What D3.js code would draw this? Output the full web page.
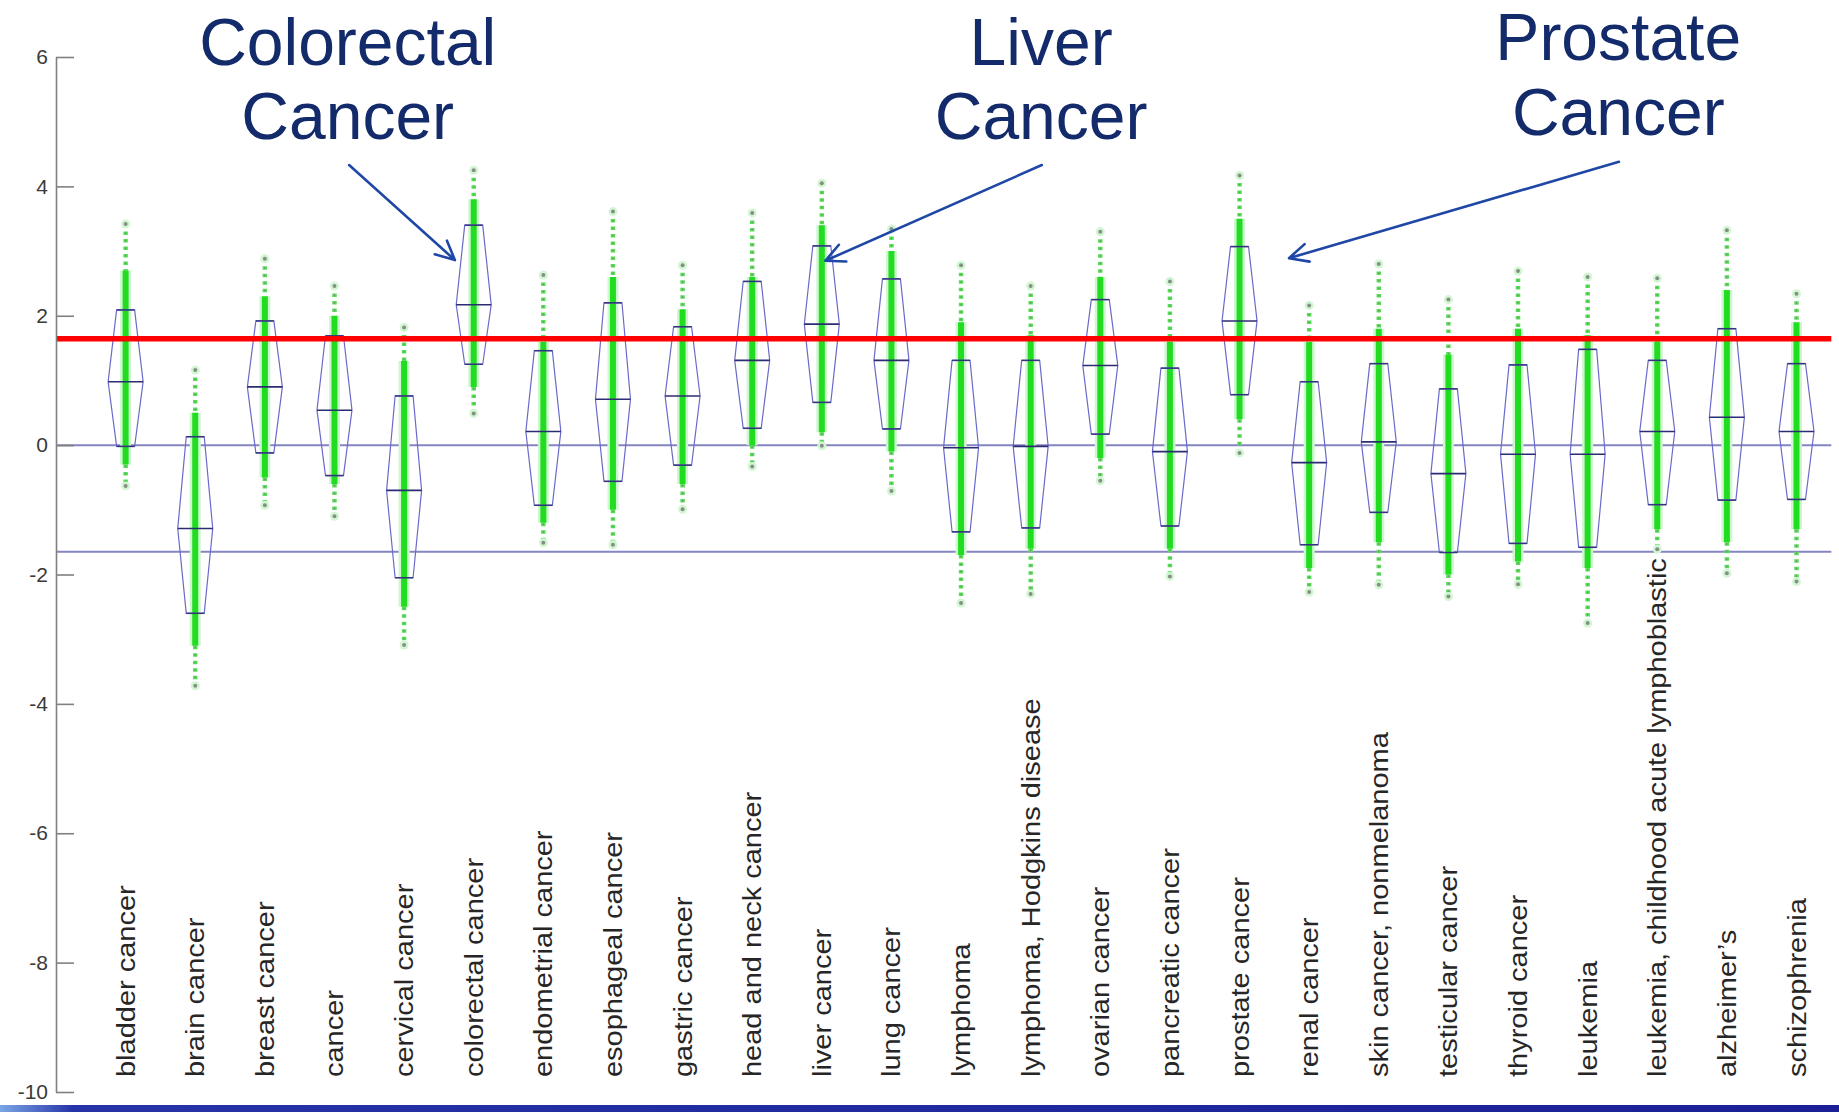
<!DOCTYPE html>
<html>
<head>
<meta charset="utf-8">
<script src="https://cdn.jsdelivr.net/npm/d3@7"></script>
<style>
  html, body { margin: 0; padding: 0; background: #fff; }
  svg { display: block; font-family: Arial, "Liberation Sans", sans-serif; }
</style>
</head>
<body>
<div id="chart"></div>
<script>
// --- data ---
const categories = [
  'bladder cancer', 'brain cancer', 'breast cancer', 'cancer', 'cervical cancer',
  'colorectal cancer', 'endometrial cancer', 'esophageal cancer', 'gastric cancer',
  'head and neck cancer', 'liver cancer', 'lung cancer', 'lymphoma',
  'lymphoma, Hodgkins disease', 'ovarian cancer', 'pancreatic cancer', 'prostate cancer',
  'renal cancer', 'skin cancer, nonmelanoma', 'testicular cancer', 'thyroid cancer',
  'leukemia', 'leukemia, childhood acute lymphoblastic', 'alzheimer\u2019s', 'schizophrenia'
];
const maxVal  = [3.42, 1.16, 2.88, 2.46, 1.82, 4.25, 2.63, 3.61, 2.78, 3.59, 4.05, 3.34, 2.78, 2.46, 3.30, 2.53, 4.17, 2.16, 2.80, 2.25, 2.69, 2.60, 2.58, 3.32, 2.34];
const denseHi = [2.70, 0.50, 2.30, 2.00, 1.30, 3.80, 1.60, 2.60, 2.10, 2.60, 3.40, 3.00, 1.90, 1.70, 2.60, 1.60, 3.50, 1.60, 1.80, 1.40, 1.80, 1.70, 1.60, 2.40, 1.90];
const q3      = [2.09, 0.13, 1.92, 1.69, 0.76, 3.40, 1.46, 2.20, 1.83, 2.53, 3.08, 2.57, 1.31, 1.31, 2.25, 1.19, 3.07, 0.98, 1.26, 0.87, 1.24, 1.48, 1.31, 1.80, 1.26];
const median  = [0.98, -1.29, 0.90, 0.54, -0.70, 2.17, 0.21, 0.71, 0.76, 1.31, 1.87, 1.31, -0.04, -0.02, 1.23, -0.10, 1.92, -0.27, 0.05, -0.44, -0.14, -0.14, 0.21, 0.43, 0.21];
const q1      = [-0.02, -2.60, -0.12, -0.47, -2.05, 1.25, -0.93, -0.56, -0.31, 0.26, 0.66, 0.25, -1.34, -1.28, 0.17, -1.25, 0.78, -1.54, -1.04, -1.66, -1.52, -1.58, -0.92, -0.85, -0.84];
const denseLo = [-0.30, -3.10, -0.50, -0.60, -2.50, 0.90, -1.20, -1.00, -0.60, 0.00, 0.20, -0.10, -1.70, -1.60, -0.20, -1.60, 0.40, -1.90, -1.50, -2.00, -1.80, -1.90, -1.30, -1.50, -1.30];
const minVal  = [-0.63, -3.72, -0.93, -1.10, -3.09, 0.49, -1.51, -1.54, -0.99, -0.33, -0.01, -0.71, -2.44, -2.30, -0.55, -2.03, -0.12, -2.27, -2.16, -2.34, -2.15, -2.75, -1.61, -1.98, -2.11];

const yTicks = [-10, -8, -6, -4, -2, 0, 2, 4, 6];
const blueLines = [0, -1.65];
const redLine = 1.645;

// callouts: text centre (category units), baselines (value units), arrow from/to
const calloutText = [['Colorectal', 'Cancer'], ['Liver', 'Cancer'], ['Prostate', 'Cancer']];
const calloutX = [4.19, 14.15, 22.44];
const calloutBase = [[5.88, 4.74], [5.88, 4.74], [5.95, 4.80]];
const arrowFrom = [[4.21, 4.33], [14.16, 4.33], [22.45, 4.38]];
const arrowTo = [[5.73, 2.86], [11.05, 2.85], [17.71, 2.89]];

// --- layout ---
const width = 1839, height = 1112;
const svg = d3.select('#chart').append('svg')
  .attr('width', width)
  .attr('height', height);

const x = d3.scaleLinear().domain([0, 26]).range([56, 56 + 26 * 69.62]);
const y = d3.scaleLinear().domain([-10, 6]).range([1092, 57]);
const xEnd = x(25.5);

const defs = svg.append('defs');
const grad = defs.append('linearGradient').attr('id', 'footer-grad')
  .attr('x1', '0%').attr('x2', '100%');
grad.append('stop').attr('offset', '0%').attr('stop-color', '#7aa6e6');
grad.append('stop').attr('offset', '4%').attr('stop-color', '#2633a8');
grad.append('stop').attr('offset', '100%').attr('stop-color', '#1a1f96');

// reference lines
svg.selectAll('.blue-line')
  .data(blueLines)
  .enter().append('line')
  .attr('x1', x(0)).attr('x2', xEnd)
  .attr('y1', d => y(d)).attr('y2', d => y(d))
  .attr('stroke', '#8585c2')
  .attr('stroke-width', 2);

// one group per category
const idx = d3.range(categories.length);
const g = svg.selectAll('.cat')
  .data(idx)
  .enter().append('g')
  .attr('class', 'cat')
  .attr('transform', i => `translate(${x(i + 1)},0)`);

// faint halo of the point column
g.append('line')
  .attr('y1', i => y(denseHi[i])).attr('y2', i => y(denseLo[i]))
  .attr('stroke', '#cdf7cd').attr('stroke-width', 11);

// sparse tails as dotted columns
const tails = [[maxVal, denseHi], [denseLo, minVal]];
tails.forEach(([a, b]) => {
  g.append('line')
    .attr('y1', i => y(a[i])).attr('y2', i => y(b[i]))
    .attr('stroke', '#55e055').attr('stroke-width', 4.5)
    .attr('stroke-dasharray', '3.5,4');
  g.append('line')
    .attr('y1', i => y(a[i])).attr('y2', i => y(b[i]))
    .attr('stroke', '#7a8a7a').attr('stroke-width', 1.3)
    .attr('stroke-dasharray', '1.5,6')
    .attr('stroke-dashoffset', -1);
});

// dense part
g.append('line')
  .attr('y1', i => y(denseHi[i])).attr('y2', i => y(denseLo[i]))
  .attr('stroke', '#22dc22').attr('stroke-width', 6);

// extreme points
[maxVal, minVal].forEach(arr => {
  g.append('circle')
    .attr('cy', i => y(arr[i])).attr('r', 4.5)
    .attr('fill', '#d2f6d2');
  g.append('circle')
    .attr('cy', i => y(arr[i])).attr('r', 2)
    .attr('fill', '#858f85');
});

// notched boxes
const hw1 = 9, hw2 = 17.5;
g.append('path')
  .attr('d', i => {
    const t = y(q3[i]), m = y(median[i]), b = y(q1[i]);
    return `M${-hw1},${t}L${-hw2},${m}L${-hw1},${b}L${hw1},${b}L${hw2},${m}L${hw1},${t}Z`;
  })
  .attr('fill', 'none')
  .attr('stroke', '#6a6acb')
  .attr('stroke-width', 1.2);

[q3, q1].forEach(arr => {
  g.append('line')
    .attr('x1', -hw1).attr('x2', hw1)
    .attr('y1', i => y(arr[i])).attr('y2', i => y(arr[i]))
    .attr('stroke', '#34347e').attr('stroke-width', 1.5);
});
g.append('line')
  .attr('x1', -hw2).attr('x2', hw2)
  .attr('y1', i => y(median[i])).attr('y2', i => y(median[i]))
  .attr('stroke', '#2c2c74').attr('stroke-width', 1.6);

// red threshold line
svg.append('line')
  .attr('x1', x(0)).attr('x2', xEnd)
  .attr('y1', y(redLine)).attr('y2', y(redLine))
  .attr('stroke', '#ff0000')
  .attr('stroke-width', 5.5);

// y axis
const yAxis = d3.axisLeft(y)
  .tickValues(yTicks)
  .tickFormat(d => String(d))
  .tickSizeInner(-18)
  .tickSizeOuter(0)
  .tickPadding(8);
const ax = svg.append('g')
  .attr('transform', `translate(${x(0)},0)`)
  .call(yAxis);
ax.select('.domain').attr('stroke', '#808080').attr('stroke-width', 1.6);
ax.selectAll('.tick line').attr('stroke', '#808080').attr('stroke-width', 1.6);
ax.selectAll('.tick text')
  .attr('fill', '#3a3a3a')
  .style('font-size', '21px')
  .style('font-family', 'Arial, "Liberation Sans", sans-serif');

// category labels (rotated)
const labelBottom = 1077;
svg.selectAll('.cat-label')
  .data(idx)
  .enter().append('text')
  .attr('class', 'cat-label')
  .attr('transform', i => `translate(${x(i + 1) + 9},${labelBottom}) rotate(-90) scale(1.16,1)`)
  .attr('text-anchor', 'start')
  .attr('fill', '#262626')
  .style('font-size', '25px')
  .text(i => categories[i]);

// callouts
const ci = d3.range(calloutText.length);
const navy = '#132a6b';
svg.selectAll('.callout')
  .data(ci)
  .enter().append('text')
  .attr('class', 'callout')
  .attr('text-anchor', 'middle')
  .attr('fill', navy)
  .style('font-size', '66px')
  .each(function (k) {
    const t = d3.select(this);
    calloutText[k].forEach((line, j) => {
      t.append('tspan')
        .attr('x', x(calloutX[k]))
        .attr('y', y(calloutBase[k][j]))
        .text(line);
    });
  });

const arrowBlue = '#1f47a6';
ci.forEach(k => {
  const x0 = x(arrowFrom[k][0]), y0 = y(arrowFrom[k][1]);
  const x1 = x(arrowTo[k][0]), y1 = y(arrowTo[k][1]);
  const ang = Math.atan2(y1 - y0, x1 - x0);
  const len = 21, spread = 0.45;
  const wing = s => [x1 - len * Math.cos(ang + s), y1 - len * Math.sin(ang + s)];
  const w1 = wing(spread), w2 = wing(-spread);
  svg.append('path')
    .attr('d', `M${x0},${y0}L${x1},${y1}M${w1[0]},${w1[1]}L${x1},${y1}L${w2[0]},${w2[1]}`)
    .attr('fill', 'none')
    .attr('stroke', arrowBlue)
    .attr('stroke-width', 2.6)
    .attr('stroke-linecap', 'round')
    .attr('stroke-linejoin', 'round');
});

// footer band
svg.append('rect')
  .attr('x', 0).attr('y', 1105)
  .attr('width', width).attr('height', height - 1105)
  .attr('fill', 'url(#footer-grad)');
</script>
</body>
</html>
